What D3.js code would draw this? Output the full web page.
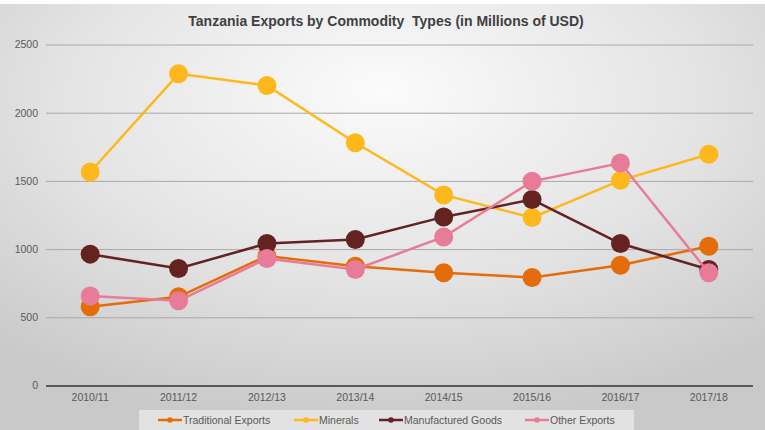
<!DOCTYPE html>
<html>
<head>
<meta charset="utf-8">
<script src="https://cdn.jsdelivr.net/npm/d3@7"></script>
<style>
  html, body { margin: 0; padding: 0; background: #fff; }
  svg { display: block; font-family: "Liberation Sans", Arial, sans-serif; }
</style>
</head>
<body>
<svg id="chart" width="765" height="430"></svg>
<script>
// Fiscal years on the x axis
const years = ["2010/11", "2011/12", "2012/13", "2013/14", "2014/15", "2015/16", "2016/17", "2017/18"];

// Export values per commodity type, millions of USD
const traditionalExports = [577, 650, 950, 875, 826, 792, 882, 1021];
const minerals = [1565, 2285, 2200, 1780, 1397, 1231, 1504, 1695];
const manufacturedGoods = [963, 858, 1041, 1070, 1236, 1363, 1041, 850];
const otherExports = [657, 621, 931, 851, 1089, 1497, 1631, 826];

const seriesNames = ["Traditional Exports", "Minerals", "Manufactured Goods", "Other Exports"];
const seriesColors = ["#E46C0A", "#FFB81C", "#642221", "#E87C98"];
const yTicks = [0, 500, 1000, 1500, 2000, 2500];

const series = [traditionalExports, minerals, manufacturedGoods, otherExports].map((vals, i) => ({
  name: seriesNames[i], color: seriesColors[i], values: vals
}));

const W = 765, H = 430;
const svg = d3.select("#chart");

// Soft radial background
const defs = svg.append("defs");
const bg = defs.append("radialGradient").attr("id", "bg")
  .attr("cx", "50%").attr("cy", "25%").attr("r", "75%")
  .attr("fx", "50%").attr("fy", "20%");
bg.append("stop").attr("offset", "0%").attr("stop-color", "#fbfbfb");
bg.append("stop").attr("offset", "55%").attr("stop-color", "#e4e4e4");
bg.append("stop").attr("offset", "100%").attr("stop-color", "#c9c9c9");

svg.append("rect").attr("x", 0).attr("y", 0).attr("width", W).attr("height", H).attr("fill", "#ffffff");
svg.append("rect").attr("x", 0).attr("y", 4).attr("width", W).attr("height", H - 4).attr("fill", "url(#bg)");

const x = d3.scaleBand().domain(years).range([46, 753]);
const y = d3.scaleLinear().domain([0, 2500]).range([385.5, 44.5]);

// Title
svg.append("text")
  .attr("x", 386).attr("y", 26)
  .attr("text-anchor", "middle")
  .attr("font-size", 14).attr("font-weight", "bold")
  .attr("fill", "#404040")
  .attr("xml:space", "preserve")
  .text("Tanzania Exports by Commodity  Types (in Millions of USD)");

// Horizontal gridlines and y labels
const yAxis = d3.axisLeft(y).tickValues(yTicks).tickFormat(d3.format("d"))
  .tickSize(-(753 - 46)).tickPadding(8);
const gy = svg.append("g").attr("transform", "translate(46,0)").call(yAxis);
gy.select(".domain").remove();
gy.selectAll(".tick line").attr("stroke", "#a9a9a9").attr("stroke-width", 1);
gy.selectAll(".tick text").attr("fill", "#595959").attr("font-size", 10.5)
  .attr("font-family", "Liberation Sans, Arial, sans-serif").attr("x", -8);
gy.selectAll(".tick").filter(d => d === 0).select("line")
  .attr("stroke", "#595959").attr("stroke-width", 1.8);

// Category axis labels
const xAxis = d3.axisBottom(x).tickSize(0).tickPadding(8);
const gx = svg.append("g").attr("transform", "translate(0,385.5)").call(xAxis);
gx.select(".domain").remove();
gx.selectAll(".tick text").attr("fill", "#595959").attr("font-size", 10.5)
  .attr("font-family", "Liberation Sans, Arial, sans-serif");

const cx = d => x(d) + x.bandwidth() / 2;

// Lines and markers
const line = d3.line().x((d, i) => cx(years[i])).y(d => y(d));
const plot = svg.append("g");
series.forEach(s => {
  plot.append("path")
    .attr("d", line(s.values))
    .attr("fill", "none")
    .attr("stroke", s.color)
    .attr("stroke-width", 2.5);
  plot.selectAll(null).data(s.values).enter().append("circle")
    .attr("cx", (d, i) => cx(years[i]))
    .attr("cy", d => y(d))
    .attr("r", 9.5)
    .attr("fill", s.color);
});

// Legend
const legend = svg.append("g");
legend.append("rect").attr("x", 139).attr("y", 410).attr("width", 495).attr("height", 20)
  .attr("fill", "#e6e6e6").attr("opacity", 0.85);
const legendX = [158, 294, 379, 525];
series.forEach((s, i) => {
  const g = legend.append("g").attr("transform", `translate(${legendX[i]},420)`);
  g.append("line").attr("x1", 0).attr("x2", 24).attr("y1", 0).attr("y2", 0)
    .attr("stroke", s.color).attr("stroke-width", 2.5);
  g.append("circle").attr("cx", 12).attr("cy", 0).attr("r", 2.8).attr("fill", s.color);
  g.append("text").attr("x", 25).attr("y", 3.8)
    .attr("font-size", 10.5).attr("fill", "#595959")
    .text(s.name);
});
</script>
</body>
</html>
